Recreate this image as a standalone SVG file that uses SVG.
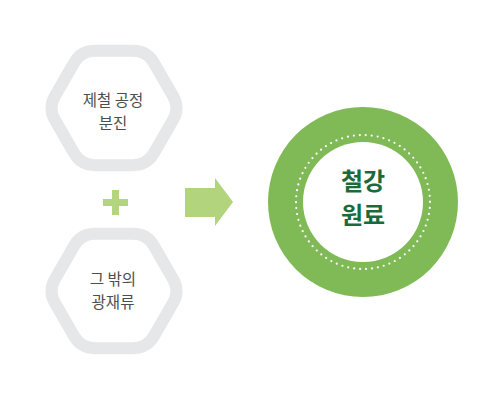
<svg xmlns="http://www.w3.org/2000/svg" width="500" height="400" viewBox="0 0 500 400">
<style>
.hex{fill:#fff;stroke:#e6e7e8;stroke-width:12}
.lbl{font-family:"Noto Sans CJK KR","Noto Sans",sans-serif;font-size:15.5px;fill:#4d4d4d;text-anchor:middle}
.big{font-family:"Noto Sans CJK KR","Noto Sans",sans-serif;font-size:24px;font-weight:bold;fill:#1b6b3a;text-anchor:middle}
</style>
<defs>
<path id="hexshape" d="M-19,-57.2 L19,-57.2 Q33,-57.2 40,-45.1 L59,-12.1 Q66,0 59,12.1 L40,45.1 Q33,57.2 19,57.2 L-19,57.2 Q-33,57.2 -40,45.1 L-59,12.1 Q-66,0 -59,-12.1 L-40,-45.1 Q-33,-57.2 -19,-57.2 Z"/>
</defs>
<rect width="500" height="400" fill="#fff"/>
<g id="node-dust">
<use href="#hexshape" class="hex" transform="translate(114,108)"/>
<text class="lbl" x="113" y="106">제철 공정</text>
<text class="lbl" x="113" y="129">분진</text>
</g>
<g id="node-slag">
<use href="#hexshape" class="hex" transform="translate(114,291)"/>
<text class="lbl" x="113" y="285">그 밖의</text>
<text class="lbl" x="113" y="308">광재류</text>
</g>
<g id="plus">
<rect x="103" y="199" width="25" height="7" fill="#b3d57e"/>
<rect x="112" y="190" width="7" height="25" fill="#b3d57e"/>
</g>
<g id="connectors">
<polygon points="185,188 215,188 215,178 233,202 215,226 215,217 185,217" fill="#b1d47c"/>
</g>
<g id="node-raw">
<circle cx="363" cy="202" r="95" fill="#7fba57"/>
<circle cx="363" cy="202" r="60" fill="#fff"/>
<circle cx="363" cy="202" r="67" fill="none" stroke="#fff" stroke-width="2.2" stroke-linecap="round" stroke-dasharray="0 6"/>
<text class="big" x="363" y="190">철강</text>
<text class="big" x="363" y="224">원료</text>
</g>
</svg>
